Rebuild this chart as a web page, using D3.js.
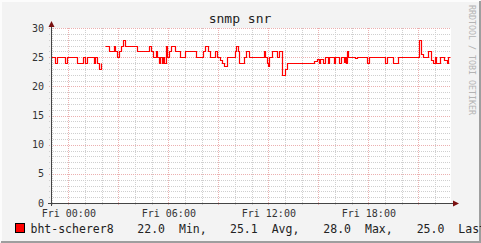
<!DOCTYPE html>
<html>
<head>
<meta charset="utf-8">
<script src="https://cdn.jsdelivr.net/npm/d3@7"></script>
<style>
  html, body { margin: 0; padding: 0; background: #f3f3f3; }
  svg { display: block; }
  text { font-family: "DejaVu Sans Mono", monospace; }
</style>
</head>
<body>
<div id="chart"></div>
<script>
// hours relative to Fri 00:00, step values (null = no data)
const hours = [-1.04, -0.80, -0.71, -0.20, -0.08, 0.54, 0.90, 1.00, 1.12, 1.54, 1.60, 1.72, 1.84, 1.96, 2.02,
  2.22, 2.42, 2.74, 2.82, 2.94, 3.02, 3.14, 3.30, 3.40, 4.10, 4.86, 4.96, 5.05, 5.26, 5.32, 5.44, 5.50, 5.59,
  5.68, 5.74, 5.86, 5.92, 6.06, 6.14, 6.40, 6.70, 7.02, 7.66, 8.06, 8.18, 8.38, 8.47, 8.78, 8.94, 9.10, 9.22,
  9.34, 9.50, 10.02, 10.06, 10.18, 10.26, 10.54, 10.63, 10.82, 11.74, 11.82, 11.90, 11.98, 12.06, 12.22, 12.54,
  12.62, 12.82, 13.02, 13.10, 14.74, 14.92, 15.04, 15.10, 15.26, 15.38, 15.58, 15.64, 15.94, 16.02, 16.26, 16.36,
  16.54, 16.60, 16.66, 16.74, 16.80, 17.22, 17.30, 17.90, 18.06, 19.02, 19.10, 19.46, 19.78, 21.02, 21.14, 21.26,
  21.58, 21.74, 21.86, 21.98, 22.06, 22.30, 22.54, 22.70, 22.78, 22.90];
const snr = [25, 24, 25, 24, 25, 24, 25, 24, 25, 24, 25, 24, 23, 24, null,
  27, 26, 27, 26, 25, 26, 27, 28, 27, 26, 27, 26, 25, 26, 25, 24, 25, 24,
  25, 24, 27, 25, 26, 27, 26, 25, 26, 25, 26, 27, 26, 25, 26, 25, 24.5, 24,
  23.5, 25, 26, 27, 26, 24, 25, 26, 25, 26, 25, 24, 23.5, 25, 26, 25,
  26, 22, 23, 24, 24.3, 24.7, 24, 24.6, 24, 25, 24, 25, 24, 25, 24, 25,
  24.2, 25, 24, 26, 25, 24.8, 25, 24, 25, 24, 25, 24, 25, 28, 25.5, 25,
  26, 24.5, 24, 25, 24, 25, 24.5, 24, 25, 25];
const yTicks = [0, 5, 10, 15, 20, 25, 30];
const xLabelHours = [0, 6, 12, 18];
const seriesName = "bht-scherer8";
const legendStats = [["22.0", "Min,"], ["25.1", "Avg,"], ["28.0", "Max,"], ["25.0", "Last"]];
const chartTitle = "snmp snr";
const watermark = "RRDTOOL / TOBI OETIKER";

const width = 481, height = 243;
const pLeft = 51, pRight = 451, pTop = 28, pBottom = 203;
const fri = new Date(2020, 0, 3, 0, 0);
const hToDate = h => new Date(fri.getTime() + h * 3600e3);

const svg = d3.select("#chart").append("svg")
  .attr("width", width).attr("height", height);

// frame
svg.append("rect").attr("width", width).attr("height", height).attr("fill", "#f3f3f3");
svg.append("path").attr("d", `M1,${height - 1} V1 H${width - 1}`).attr("stroke", "#fcfcfc").attr("stroke-width", 2).attr("fill", "none");
svg.append("path").attr("d", `M1,${height - 1} H${width - 1} V1`).attr("stroke", "#9e9e9e").attr("stroke-width", 2).attr("fill", "none");

const x = d3.scaleTime().domain([hToDate(-1.04), hToDate(22.96)]).range([pLeft, pRight]);
const y = d3.scaleLinear().domain([0, 30]).range([pBottom, pTop]);

svg.append("rect").attr("x", pLeft).attr("y", pTop).attr("width", pRight - pLeft).attr("height", pBottom - pTop).attr("fill", "#ffffff");

// minor grid
const minorY = d3.range(1, 31).filter(v => v % 5 !== 0);
svg.append("g").selectAll("line").data(minorY).join("line")
  .attr("x1", pLeft - 2).attr("x2", pRight)
  .attr("y1", d => Math.round(y(d)) + 0.5).attr("y2", d => Math.round(y(d)) + 0.5)
  .attr("stroke", "#cfcfcf").attr("stroke-dasharray", "1,1");
const hourTicks = x.ticks(d3.timeHour.every(1)).filter(d => d.getHours() % 3 !== 0);
svg.append("g").selectAll("line").data(hourTicks).join("line")
  .attr("x1", d => Math.round(x(d)) + 0.5).attr("x2", d => Math.round(x(d)) + 0.5)
  .attr("y1", pTop).attr("y2", pBottom + 2)
  .attr("stroke", "#cfcfcf").attr("stroke-dasharray", "1,1");

// major grid
svg.append("g").selectAll("line").data(yTicks.slice(1)).join("line")
  .attr("x1", pLeft - 2).attr("x2", pRight)
  .attr("y1", d => Math.round(y(d)) + 0.5).attr("y2", d => Math.round(y(d)) + 0.5)
  .attr("stroke", "#ebb0b0").attr("stroke-dasharray", "1,1");
const majorX = x.ticks(d3.timeHour.every(3));
svg.append("g").selectAll("line").data(majorX).join("line")
  .attr("x1", d => Math.round(x(d)) + 0.5).attr("x2", d => Math.round(x(d)) + 0.5)
  .attr("y1", pTop).attr("y2", pBottom + 3)
  .attr("stroke", "#ebb0b0").attr("stroke-dasharray", "1,1");

// y labels
svg.append("g").selectAll("text").data(yTicks).join("text")
  .attr("x", 44).attr("y", d => y(d) + 3.5)
  .attr("text-anchor", "end").attr("font-size", 10).attr("fill", "#333")
  .text(d => d);

// x labels
svg.append("g").selectAll("text").data(xLabelHours).join("text")
  .attr("x", d => x(hToDate(d)) + 0.5).attr("y", 216.5)
  .attr("text-anchor", "middle").attr("font-size", 10).attr("fill", "#333")
  .text(d => d3.timeFormat("Fri %H:%M")(hToDate(d)));

// data line
const pts = hours.map((h, i) => ({ t: hToDate(h), v: snr[i] }));
svg.append("path").datum(pts)
  .attr("fill", "none").attr("stroke", "#ff0000").attr("stroke-width", 1.2)
  .attr("d", d3.line().defined(d => d.v != null).curve(d3.curveStepAfter)
    .x(d => Math.round(x(d.t)) + 0.5).y(d => Math.round(y(d.v)) + 0.5));

// axes
svg.append("line").attr("x1", pLeft + 0.5).attr("x2", pLeft + 0.5).attr("y1", 24).attr("y2", pBottom + 3)
  .attr("stroke", "#444");
svg.append("line").attr("x1", pLeft - 3).attr("x2", 453).attr("y1", pBottom + 0.5).attr("y2", pBottom + 0.5)
  .attr("stroke", "#444");
svg.append("path").attr("d", `M${pLeft - 2.5},${pTop - 1} L${pLeft + 0.5},${pTop - 7} L${pLeft + 3.5},${pTop - 1} Z`).attr("fill", "#7a1010");
svg.append("path").attr("d", `M453,${pBottom - 2.5} L459,${pBottom + 0.5} L453,${pBottom + 3.5} Z`).attr("fill", "#7a1010");

// title
svg.append("text").attr("x", 240).attr("y", 23).attr("text-anchor", "middle")
  .attr("font-size", 13).attr("fill", "#222").text(chartTitle);

// watermark
svg.append("text").attr("transform", "translate(469,5) rotate(90)")
  .attr("font-size", 8.3).attr("fill", "#b4b4b4").text(watermark);

// legend
svg.append("rect").attr("x", 15.5).attr("y", 223.5).attr("width", 9).attr("height", 9)
  .attr("fill", "#ff0000").attr("stroke", "#000");
svg.append("text").attr("x", 30.5).attr("y", 233).attr("font-size", 11.5).attr("fill", "#222").text(seriesName);
const statX = [[137.3, 179], [230, 271.7], [323.3, 365], [416.7, 458.3]];
legendStats.forEach((s, i) => {
  svg.append("text").attr("x", statX[i][0]).attr("y", 233).attr("font-size", 11.5).attr("fill", "#222").text(s[0]);
  svg.append("text").attr("x", statX[i][1]).attr("y", 233).attr("font-size", 11.5).attr("fill", "#222").text(s[1]);
});
</script>
</body>
</html>
